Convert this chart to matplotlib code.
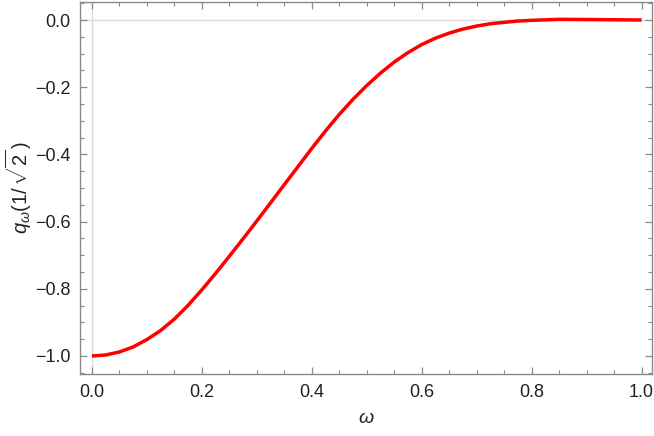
import matplotlib
matplotlib.use("Agg")
import matplotlib.pyplot as plt
from matplotlib.ticker import MultipleLocator, FormatStrFormatter

plt.rcParams['font.family'] = ['Liberation Sans', 'DejaVu Sans']
plt.rcParams['mathtext.fontset'] = 'custom'
plt.rcParams['mathtext.rm'] = 'Liberation Sans'
plt.rcParams['mathtext.it'] = 'Liberation Sans:italic'
plt.rcParams['mathtext.sf'] = 'Liberation Sans'

omega = [0.0, 0.025, 0.05, 0.075, 0.1, 0.125, 0.15, 0.175, 0.2, 0.225, 0.25, 0.275,
         0.3, 0.325, 0.35, 0.375, 0.4, 0.425, 0.45, 0.475, 0.5, 0.525, 0.55, 0.575,
         0.6, 0.625, 0.65, 0.675, 0.7, 0.725, 0.75, 0.775, 0.8, 0.85, 0.9, 0.95, 1.0]
q_vals = [-1.0, -0.997, -0.988, -0.973, -0.951, -0.924, -0.890, -0.849, -0.803,
          -0.754, -0.703, -0.651, -0.598, -0.544, -0.490, -0.436, -0.382, -0.330,
          -0.281, -0.236, -0.195, -0.158, -0.125, -0.097, -0.073, -0.054, -0.039,
          -0.027, -0.018, -0.011, -0.007, -0.003, -0.001, 0.002, 0.0015, 0.0007, 0.0]

xticks = [0.0, 0.2, 0.4, 0.6, 0.8, 1.0]
yticks = [0.0, -0.2, -0.4, -0.6, -0.8, -1.0]

fig = plt.figure(figsize=(6.54, 4.36), dpi=100)
ax = fig.add_axes([80/654, 1-374/436, (652-80)/654, (374-2)/436])

ax.axhline(0, color='#dcdcdc', lw=1.0, zorder=1)
ax.axvline(0, color='#dcdcdc', lw=1.0, zorder=1)
ax.plot(omega, q_vals, color='#ff0000', lw=2.5, zorder=3,
        solid_capstyle='butt', solid_joinstyle='round')

ax.set_xlim(-0.0218, 1.019)
ax.set_ylim(-1.0536, 0.0536)
ax.set_xticks(xticks)
ax.set_yticks(yticks)
ax.xaxis.set_major_formatter(FormatStrFormatter('%.1f'))
ax.xaxis.set_minor_locator(MultipleLocator(0.05))
ax.yaxis.set_minor_locator(MultipleLocator(0.05))

frame_col = '#8a8a8a'
for s in ax.spines.values():
    s.set_color(frame_col)
    s.set_linewidth(1.0)
ax.tick_params(which='both', direction='in', top=True, right=True, color=frame_col,
               labelsize=13, labelcolor='#222222')
ax.tick_params(which='major', length=5, width=0.9, pad=7)
ax.tick_params(which='minor', length=3, width=0.8)

ax.set_yticklabels([('\u2212' if v < 0 else '') + f'{abs(v):.1f}' for v in yticks])

fig.text(366/654, 1-418/436, r'$\omega$', fontsize=14, color='#222222',
         ha='center', va='center')
fig.text(19/654, 1-188/436, r'$q_{\omega}(1/\,\sqrt{2}\,)$', fontsize=14.5,
         color='#222222', ha='center', va='center', rotation=90)

fig.savefig('out.png', dpi=100)
